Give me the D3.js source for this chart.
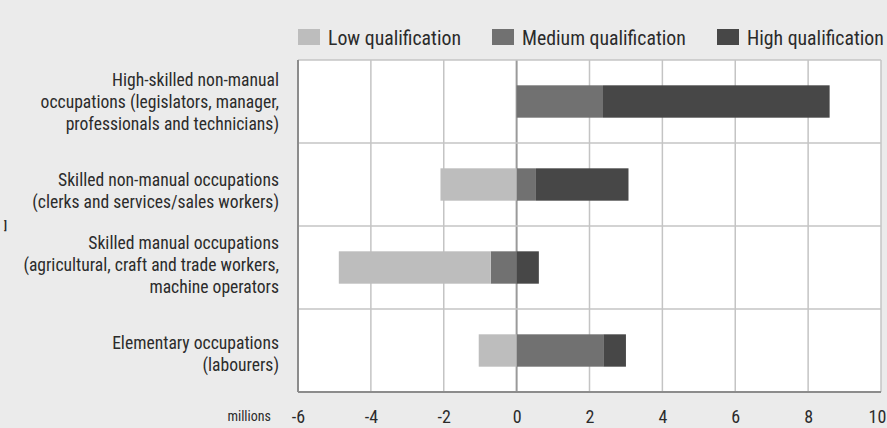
<!DOCTYPE html>
<html>
<head>
<meta charset="utf-8">
<script src="https://cdn.jsdelivr.net/npm/d3@7"></script>
<style>
  body { margin: 0; background: #ebebeb; }
  text { font-family: "Roboto Condensed", "Arial Narrow", sans-serif; fill: #2b2b2b; }
</style>
</head>
<body>
<div class="container"></div>
<script>
var categories = [
  ["High-skilled non-manual", "occupations (legislators, manager,", "professionals and technicians)"],
  ["Skilled non-manual occupations", "(clerks and services/sales workers)"],
  ["Skilled manual occupations", "(agricultural, craft and trade workers,", "machine operators"],
  ["Elementary occupations", "(labourers)"]
];
var seriesNames = ["Low qualification", "Medium qualification", "High qualification"];
var lowValues = [0, -2.09, -4.17, -1.04];
var mediumValues = [2.37, 0.53, -0.71, 2.38];
var highValues = [6.22, 2.54, 0.61, 0.62];
var tickValues = [-6, -4, -2, 0, 2, 4, 6, 8, 10];
var colors = ["#bdbdbd", "#717171", "#474747"];

var W = 887, H = 428;
var margin = { top: 60, left: 298 };
var width = 881 - margin.left;
var height = 392 - margin.top;

var svg = d3.select(".container").append("svg")
  .attr("width", W).attr("height", H);

svg.append("rect").attr("width", W).attr("height", H).attr("fill", "#ebebeb");

var g = svg.append("g").attr("transform", `translate(${margin.left},${margin.top})`);

var x = d3.scaleLinear().domain([-6, 10]).range([0, width]);
var y = d3.scaleBand().domain(d3.range(categories.length)).range([0, height]).paddingInner(0.61).paddingOuter(0.305);
var band = d3.scaleBand().domain(d3.range(categories.length)).range([0, height]);

// table for the stack
var rows = categories.map(function (c, i) {
  return { i: i, low: lowValues[i], medium: mediumValues[i], high: highValues[i] };
});
// medium first so it sits next to zero on both sides
var keys = ["medium", "low", "high"];
var colorOf = { low: colors[0], medium: colors[1], high: colors[2] };
var stacked = d3.stack().keys(keys).offset(d3.stackOffsetDiverging)(rows);

// plot area
g.append("rect").attr("width", width).attr("height", height).attr("fill", "#fff");

// vertical grid
g.selectAll("line.vgrid").data(tickValues.slice(1, -1)).enter().append("line")
  .attr("class", "vgrid")
  .attr("x1", d => x(d)).attr("x2", d => x(d))
  .attr("y1", 0).attr("y2", height)
  .attr("stroke", d => d === 0 ? "#9a9a9a" : "#c4c4c4")
  .attr("stroke-width", d => d === 0 ? 2 : 1.5);

// horizontal separators
g.selectAll("line.hgrid").data(d3.range(1, categories.length)).enter().append("line")
  .attr("class", "hgrid")
  .attr("x1", 0).attr("x2", width)
  .attr("y1", d => band(d)).attr("y2", d => band(d))
  .attr("stroke", "#c4c4c4").attr("stroke-width", 1.5);

// bars
g.selectAll("g.series").data(stacked).enter().append("g")
  .attr("class", "series")
  .attr("fill", d => colorOf[d.key])
  .selectAll("rect").data(d => d).enter().append("rect")
  .attr("x", d => x(Math.min(d[0], d[1])))
  .attr("width", d => Math.abs(x(d[1]) - x(d[0])))
  .attr("y", d => y(d.data.i))
  .attr("height", y.bandwidth());

// frame
g.append("line").attr("x1", 0).attr("x2", width).attr("y1", 0).attr("y2", 0).attr("stroke", "#c4c4c4").attr("stroke-width", 1.5);
g.append("line").attr("x1", width).attr("x2", width).attr("y1", 0).attr("y2", height).attr("stroke", "#c4c4c4").attr("stroke-width", 1.5);
g.append("line").attr("x1", 0).attr("x2", 0).attr("y1", 0).attr("y2", height).attr("stroke", "#8c8c8c").attr("stroke-width", 2);
g.append("line").attr("x1", 0).attr("x2", width).attr("y1", height).attr("y2", height).attr("stroke", "#8c8c8c").attr("stroke-width", 2);

// x axis labels
var xAxis = d3.axisBottom(x).tickValues(tickValues).tickSize(0).tickPadding(18).tickFormat(d => String(d));
var ax = g.append("g").attr("transform", `translate(0,${height})`).call(xAxis);
ax.select(".domain").remove();
ax.selectAll("text").style("font-size", "18px").attr("fill", "#2b2b2b")
  .style("font-family", "'Roboto Condensed', 'Arial Narrow', sans-serif");
ax.selectAll("text").filter(d => d === 10).attr("dx", -4);

svg.append("text").attr("x", 271).attr("y", 421).attr("text-anchor", "end")
  .style("font-size", "14px").text("millions");

// category labels
var lineH = 22;
var labelShift = [0, 6, -3, 3];
categories.forEach(function (lines, i) {
  var cy = margin.top + band(i) + band.bandwidth() / 2 + labelShift[i];
  var t = svg.append("text").attr("text-anchor", "end").style("font-size", "17.6px");
  lines.forEach(function (l, k) {
    t.append("tspan").attr("x", 279)
      .attr("y", cy + (k - (lines.length - 1) / 2) * lineH + 6)
      .text(l);
  });
});

// stray mark on the left edge
svg.append("text").attr("x", 4).attr("y", 229).style("font-size", "11px").style("font-weight", "bold").text("]");

// legend
var legendX = [298, 492, 717];
var legend = svg.selectAll("g.legend").data(seriesNames).enter().append("g")
  .attr("class", "legend")
  .attr("transform", (d, i) => `translate(${legendX[i]},29)`);
legend.append("rect").attr("width", 22).attr("height", 16)
  .attr("fill", (d, i) => colors[i]);
legend.append("text").attr("x", 30).attr("y", 15.5).style("font-size", "19.8px").text(d => d);
</script>
</body>
</html>
